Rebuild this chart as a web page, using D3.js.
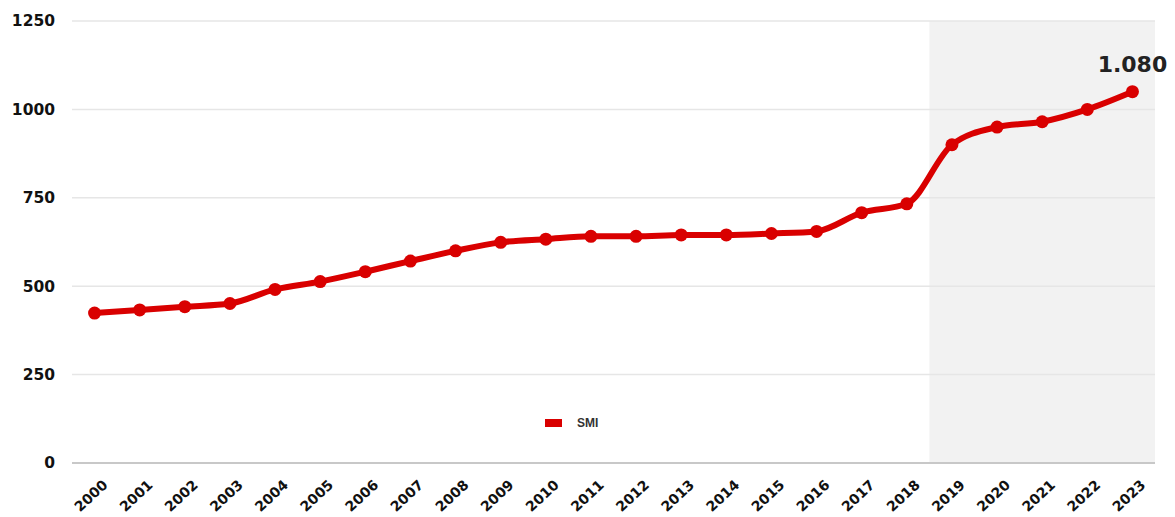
<!DOCTYPE html>
<html>
<head>
<meta charset="utf-8">
<script src="https://cdn.jsdelivr.net/npm/d3@7"></script>
<style>
  body { margin: 0; background: #fff; }
  svg { display: block; }
</style>
</head>
<body>
<div id="chart"></div>
<script>
const years = ["2000","2001","2002","2003","2004","2005","2006","2007","2008","2009","2010","2011",
  "2012","2013","2014","2015","2016","2017","2018","2019","2020","2021","2022","2023"];
const smi = [424, 433, 442, 451, 491, 513, 541, 571, 600, 624, 633, 641,
  641, 645, 645, 649, 655, 708, 733, 900, 950, 965, 1000, 1050];
const yTicks = [0, 250, 500, 750, 1000, 1250];
const shadedFrom = "2019";
const lastLabel = "1.080";
const seriesName = "SMI";

const width = 1175, height = 517;
const margin = { top: 21, right: 20, bottom: 54, left: 72 };
const red = "#d90000";

const svg = d3.select("#chart").append("svg")
  .attr("width", width)
  .attr("height", height);

const x = d3.scaleBand()
  .domain(years)
  .range([margin.left, width - margin.right])
  .padding(0);

const y = d3.scaleLinear()
  .domain([0, 1250])
  .range([height - margin.bottom, margin.top]);

const cx = (d) => x(d) + x.bandwidth() / 2;

// shaded area from 2019 on
svg.append("rect")
  .attr("x", x(shadedFrom))
  .attr("y", y(1250))
  .attr("width", width - margin.right - x(shadedFrom))
  .attr("height", y(0) - y(1250))
  .attr("fill", "#f2f2f2");

// gridlines
svg.append("g")
  .selectAll("line")
  .data(yTicks.filter((t) => t > 0))
  .join("line")
  .attr("x1", margin.left)
  .attr("x2", width - margin.right)
  .attr("y1", (d) => y(d))
  .attr("y2", (d) => y(d))
  .attr("stroke", "#e6e6e6")
  .attr("stroke-width", 1.5);

// baseline
svg.append("line")
  .attr("x1", margin.left)
  .attr("x2", width - margin.right)
  .attr("y1", y(0))
  .attr("y2", y(0))
  .attr("stroke", "#c8c8c8")
  .attr("stroke-width", 2);

// y labels
const yAxis = svg.append("g")
  .attr("transform", `translate(${margin.left - 17},0)`)
  .call(d3.axisLeft(y).tickValues(yTicks).tickFormat(d3.format("d")).tickSize(0).tickPadding(0));
yAxis.select(".domain").remove();
yAxis.selectAll("text")
  .attr("font-family", "DejaVu Sans")
  .attr("font-weight", "bold")
  .attr("font-size", "15.5px")
  .attr("fill", "#111");

// x labels
const xAxis = svg.append("g")
  .attr("transform", `translate(0,${y(0)})`)
  .call(d3.axisBottom(x).tickSize(0).tickPadding(0));
xAxis.select(".domain").remove();
xAxis.selectAll("text")
  .attr("font-family", "DejaVu Sans")
  .attr("font-weight", "bold")
  .attr("font-size", "14px")
  .attr("fill", "#111")
  .attr("text-anchor", "end")
  .attr("dy", null)
  .attr("transform", "translate(14,23) rotate(-43)");

// line
const line = d3.line()
  .x((d, i) => cx(years[i]))
  .y((d) => y(d))
  .curve(d3.curveMonotoneX);

svg.append("path")
  .datum(smi)
  .attr("d", line)
  .attr("fill", "none")
  .attr("stroke", red)
  .attr("stroke-width", 6)
  .attr("stroke-linejoin", "round");

svg.append("g")
  .selectAll("circle")
  .data(smi)
  .join("circle")
  .attr("cx", (d, i) => cx(years[i]))
  .attr("cy", (d) => y(d))
  .attr("r", 6.5)
  .attr("fill", red);

// last value label
svg.append("text")
  .attr("x", cx(years[years.length - 1]))
  .attr("y", y(smi[smi.length - 1]) - 20)
  .attr("text-anchor", "middle")
  .attr("font-family", "DejaVu Sans")
  .attr("font-weight", "bold")
  .attr("font-size", "22px")
  .attr("fill", "#222")
  .text(lastLabel);

// legend
const legend = svg.append("g").attr("transform", "translate(545,419)");
legend.append("rect")
  .attr("width", 17)
  .attr("height", 8)
  .attr("fill", red);
legend.append("text")
  .attr("x", 32)
  .attr("y", 4)
  .attr("dy", "0.35em")
  .attr("font-family", "Liberation Sans")
  .attr("font-weight", "bold")
  .attr("font-size", "12px")
  .attr("fill", "#333")
  .text(seriesName);
</script>
</body>
</html>
